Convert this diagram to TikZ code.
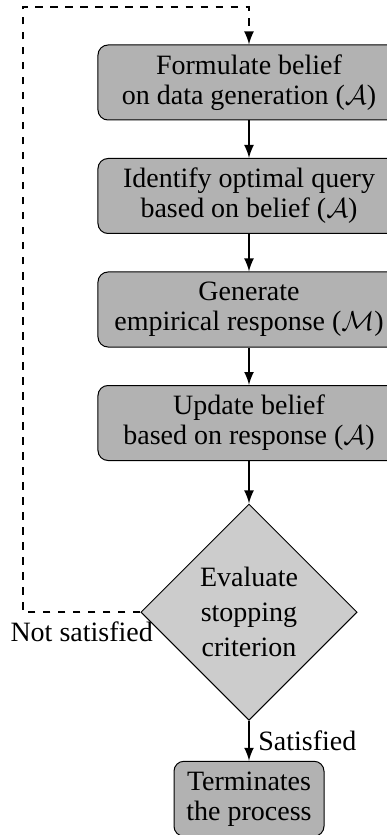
\documentclass[tikz,border=0pt]{standalone}
\usepackage{fontspec}
\setmainfont{Liberation Serif}
\usepackage{tikz}
\usetikzlibrary{shapes, positioning}

\tikzset{
    process/.style={draw, rounded corners=4pt, fill=gray!60, align=center,
        minimum width=120.8pt, minimum height=30pt},
    decision/.style={draw, diamond, aspect=1, fill=gray!40, align=center,
        font=\fontsize{11.2pt}{14pt}\selectfont,
        inner sep=0pt, minimum width=86.5pt, minimum height=86.5pt},
    flow/.style={thick, ->},
    loop/.style={thick, dashed, ->}
}

\begin{document}
\begin{tikzpicture}[>=latex, font=\fontsize{11.2pt}{12pt}\selectfont]

\useasboundingbox (-99.6pt, -301pt) rectangle (55.2pt, 33pt);

%% steps
\node[process] (belief) at (0,0) {Formulate belief\\on data generation ($\mathcal{A}$)};
\node[process, below=15pt of belief] (query) {Identify optimal query\\based on belief ($\mathcal{A}$)};
\node[process, below=15pt of query] (response) {Generate\\empirical response ($\mathcal{M}$)};
\node[process, below=15pt of response] (update) {Update belief\\based on response ($\mathcal{A}$)};
\node[decision, below=17pt of update] (evaluate) {Evaluate\\stopping\\criterion};
\node[process, below=16pt of evaluate, minimum width=60pt] (terminate) {Terminates\\the process};

%% arrows
\draw[flow] (belief) -- (query);
\draw[flow] (query) -- (response);
\draw[flow] (response) -- (update);
\draw[flow] (update) -- (evaluate);
\draw[flow] (evaluate) -- node[anchor=west] {Satisfied} (terminate);

% loop back
\coordinate[above=15pt of belief] (looptop);
\coordinate (loopleft) at (-90.4pt, 0);
\draw[loop] (evaluate.west) -- node[anchor=north] {Not satisfied} (evaluate.west -| loopleft)
    |- (looptop) -- (belief.north);

\end{tikzpicture}
\end{document}
